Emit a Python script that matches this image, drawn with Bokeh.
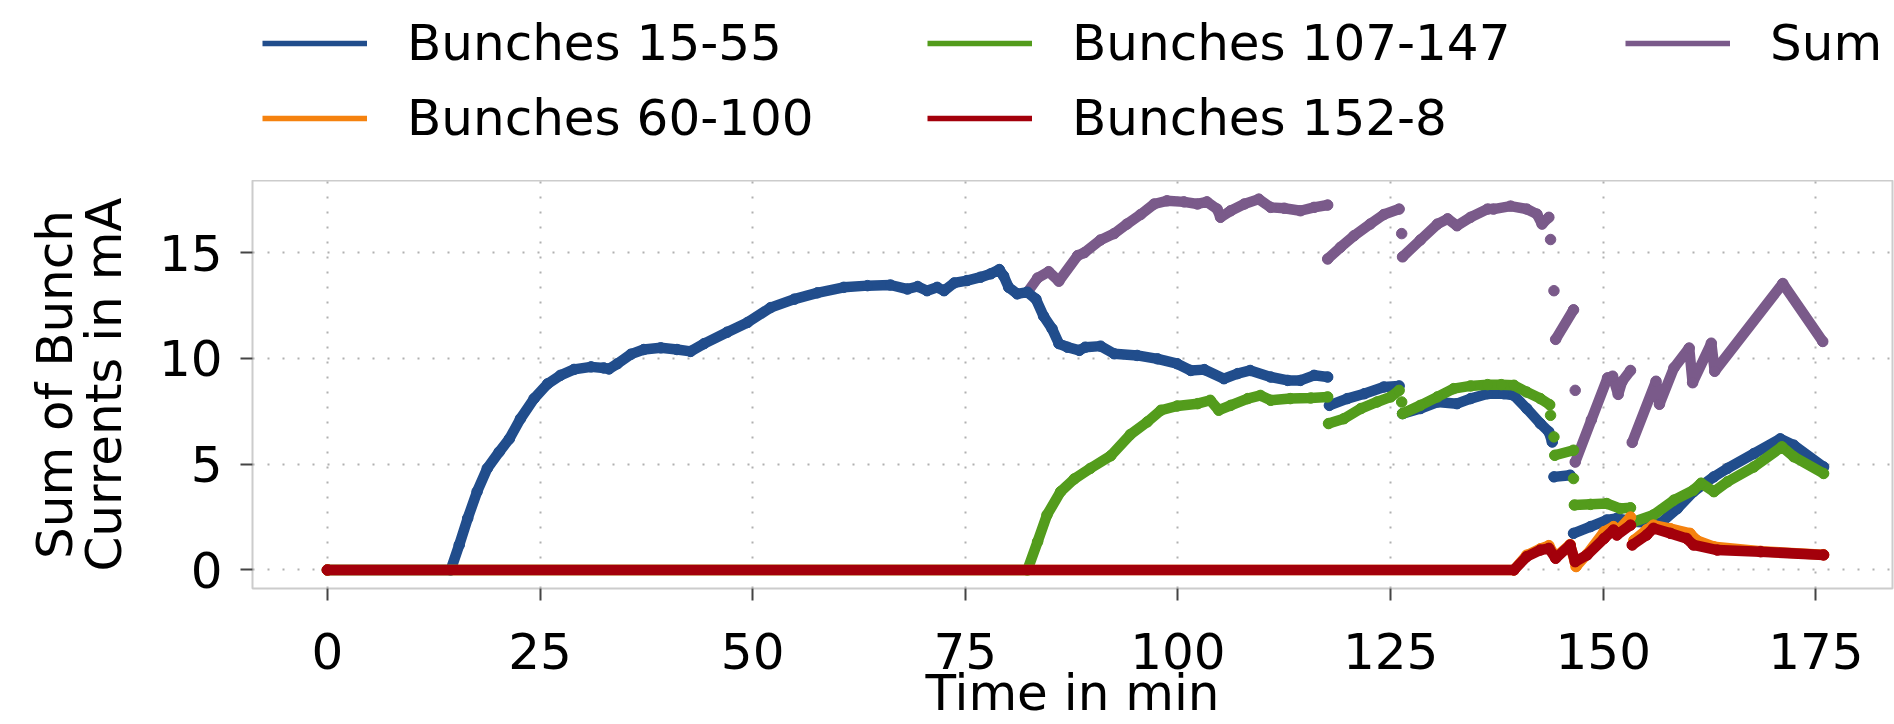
from bokeh.plotting import figure
from bokeh.layouts import column
from bokeh.models import Legend, LegendItem, FixedTicker, Range1d
from bokeh.embed import file_html
from bokeh.resources import INLINE

NaN = float("nan")

# ---------------- data (time in min, current in mA) ----------------
t_b15 = [0, 14.5, 15.5, 16.5, 17.6, 18.8, 20.2, 21.4, 22.7, 24.3,
         25.9, 27.4, 29.0, 31.0, 32.5, 33.1, 34.1, 35.7, 37.2, 39.2,
         41.1, 42.7, 44.3, 47.0, 49.4, 52.1, 54.9, 57.6, 60.7, 63.5,
         66.2, 68.2, 69.4, 70.5, 71.7, 72.5, 73.7, 75.2, 76.8, 78.0,
         79.0, 79.5, 80.1, 81.1, 82.3, 83.3, 84.2, 85.2, 86.0, 87.0,
         88.4, 89.1, 90.9, 92.5, 95.2, 97.6, 99.9, 101.5, 103.1, 105.4,
         107.0, 108.5, 110.9, 112.9, 114.4, 116.0, 117.6, NaN, 117.8, 119.9,
         121.9, 124.2, 126.0, NaN, 126.4, 128.5, 130.5, 132.8, 134.4, 136.4,
         138.3, 139.5, 141.0, 142.6, 143.6, 144.0, NaN, 144.2, 146.1, NaN,
         146.5, 148.5, 150.4, 151.6, 153.6, 156.7, 158.7, 160.6, 163.0, 164.6,
         167.7, 170.8, 172.4, 175.9]
v_b15 = [0, 0, 1.18, 2.44, 3.7, 4.8, 5.58, 6.2, 7.15, 8.1,
         8.8, 9.2, 9.48, 9.6, 9.55, 9.5, 9.75, 10.2, 10.42, 10.5,
         10.42, 10.33, 10.7, 11.24, 11.7, 12.4, 12.8, 13.1, 13.36, 13.44,
         13.47, 13.28, 13.4, 13.2, 13.36, 13.2, 13.57, 13.68, 13.84, 14.0,
         14.2, 13.9, 13.36, 13.05, 13.13, 12.8, 12.0, 11.4, 10.7, 10.53,
         10.38, 10.53, 10.58, 10.22, 10.14, 9.98, 9.75, 9.43, 9.47, 9.04,
         9.28, 9.43, 9.12, 8.96, 8.96, 9.2, 9.12, NaN, 7.78, 8.1,
         8.33, 8.65, 8.7, NaN, 7.39, 7.63, 7.94, 7.86, 8.1, 8.33,
         8.33, 8.25, 7.63, 6.92, 6.53, 6.05, NaN, 4.4, 4.48, NaN,
         1.73, 2.05, 2.36, 2.44, 2.28, 2.2, 2.9, 3.7, 4.4, 4.8,
         5.5, 6.2, 5.9, 4.87]

t_b60 = [0, 139.5, 141.0, 142.6, 143.6, 144.4, 146.1, 146.8, 148.1, 150.1,
         151.2, 151.6, 153.2, NaN, 153.6, 155.1, 155.9, 157.9, 160.2, 161.0,
         163.0, 168.5, 175.9]
v_b60 = [0, 0, 0.7, 1.0, 1.15, 0.6, 1.2, 0.16, 0.75, 1.81,
         2.05, 1.8, 2.5, NaN, 1.4, 1.9, 2.12, 1.95, 1.73, 1.4,
         1.1, 0.88, 0.72]

t_b107 = [0, 82.3, 83.5, 84.6, 86.2, 87.8, 89.7, 92.1, 94.4, 96.4,
          98.0, 99.9, 102.3, 103.8, 104.8, 106.2, 108.2, 109.7, 110.9, 113.2,
          115.6, 117.6, NaN, 117.7, 119.5, 121.5, 123.4, 125.0, 126.0, NaN,
          126.3, NaN, 126.4, 128.5, 130.5, 132.4, 134.4, 136.4, 138.0, 139.5,
          141.0, 142.6, 143.7, NaN, 143.8, NaN, 144.2, NaN, 144.3, 146.5,
          NaN, 146.5, NaN, 146.6, 148.5, 150.4, 152.0, 153.2, NaN, 153.6,
          155.9, 158.3, 160.6, 161.5, 163.0, 164.6, 167.7, 171.0, 172.4, 175.9]
v_b107 = [0, 0, 1.34, 2.6, 3.7, 4.3, 4.8, 5.4, 6.4, 7.0,
          7.55, 7.75, 7.86, 8.02, 7.55, 7.78, 8.1, 8.25, 8.02, 8.1,
          8.13, 8.18, NaN, 6.92, 7.15, 7.63, 7.94, 8.18, 8.49, NaN,
          7.94, NaN, 7.39, 7.78, 8.18, 8.57, 8.7, 8.76, 8.76, 8.73,
          8.41, 8.1, 7.81, NaN, 7.31, NaN, 6.29, NaN, 5.42, 5.66,
          NaN, 4.32, NaN, 3.07, 3.1, 3.14, 2.9, 2.94, NaN, 2.28,
          2.6, 3.3, 3.77, 4.1, 3.7, 4.17, 4.87, 5.82, 5.35, 4.56]

t_b152 = [0, 139.5, 141.0, 142.6, 143.6, 144.4, 146.1, 146.7, 148.1, 150.1,
          151.2, 151.6, 153.2, NaN, 153.4, 155.1, 155.9, 157.9, 159.8, 160.6,
          163.4, 168.5, 175.9]
v_b152 = [0, 0, 0.63, 0.94, 1.02, 0.55, 1.18, 0.39, 0.71, 1.49,
          1.89, 1.65, 2.12, NaN, 1.18, 1.65, 1.97, 1.73, 1.49, 1.18,
          0.94, 0.86, 0.71]

t_sum = [82.3, 83.5, 84.8, 86.0, 88.2, 89.0, 90.9, 92.5, 94.0, 95.6,
         97.2, 98.7, 100.7, 102.3, 103.4, 104.6, 105.0, 106.2, 107.8, 109.5,
         110.9, 112.5, 114.4, 116.0, 117.6, NaN, 117.6, 119.1, 120.7, 122.6,
         124.2, 126.0, NaN, 126.3, NaN, 126.4, 128.5, 130.5, 131.7, 132.8,
         134.4, 136.4, 137.1, 139.1, 141.0, 142.2, 142.8, 143.6, NaN, 143.8,
         NaN, 144.2, NaN, 144.4, 146.5, NaN, 146.7, NaN, 146.7, 148.6,
         150.5, 151.1, 151.75, 152.2, 153.2, NaN, 153.4, 156.2, 156.6, 158.3,
         160.1, 160.5, 162.7, 163.1, 171.1, 175.8]
v_sum = [13.13, 13.8, 14.1, 13.65, 14.86, 15.0, 15.6, 15.9, 16.35, 16.8,
         17.3, 17.45, 17.4, 17.3, 17.4, 17.06, 16.67, 16.98, 17.3, 17.53,
         17.14, 17.1, 16.98, 17.14, 17.25, NaN, 14.7, 15.25, 15.8, 16.35,
         16.8, 17.06, NaN, 15.9, NaN, 14.8, 15.6, 16.35, 16.6, 16.27,
         16.67, 17.06, 17.06, 17.2, 17.06, 16.82, 16.35, 16.67, NaN, 15.62,
         NaN, 13.2, NaN, 10.9, 12.3, NaN, 8.49, NaN, 5.1, 7.1,
         9.08, 9.16, 8.3, 8.9, 9.43, NaN, 6.03, 8.92, 7.83, 9.55,
         10.49, 8.85, 10.72, 9.39, 13.54, 10.8]

series_labels = ["Bunches 15-55", "Bunches 60-100", "Bunches 107-147", "Bunches 152-8", "Sum"]
series_colors = ["#214d8c", "#f5820f", "#539c1c", "#a3000b", "#7a5a8a"]

x_ticks = [0, 25, 50, 75, 100, 125, 150, 175]
y_ticks = [0, 5, 10, 15]

FONT = "DejaVu Sans"
FS = "50px"

LEG_H = 180
W = 1894
H = 724

# ---------------- legend strip ----------------
lf = figure(width=W, height=LEG_H, x_range=Range1d(0, 1), y_range=Range1d(0, 1),
            output_backend="svg", toolbar_location=None,
            x_axis_location=None, y_axis_location=None,
            min_border_left=0, min_border_right=0, min_border_top=0, min_border_bottom=0)
lf.grid.visible = False
lf.outline_line_color = None
lf.background_fill_color = "white"
lf.border_fill_color = "white"

# legend proxies: no visible data, only used for the legend swatches
proxies = [lf.line(x=[NaN, NaN], y=[NaN, NaN], line_color=c, line_width=5.5) for c in series_colors]


def make_legend(idx, loc):
    lg = Legend(items=[LegendItem(label=series_labels[i], renderers=[proxies[i]]) for i in idx],
                location=loc, orientation="vertical",
                label_text_font=FONT, label_text_font_size=FS, label_text_color="black",
                glyph_width=105, glyph_height=60, label_height=60,
                label_standoff=40, spacing=15, padding=0, margin=0,
                border_line_color=None, background_fill_alpha=0)
    lf.add_layout(lg, "center")


# x is measured from the plot frame's left edge (frames are aligned in the column)
make_legend([0, 1], (10, 32))
make_legend([2, 3], (675, 32))
make_legend([4], (1373, 107))

# ---------------- main plot ----------------
p = figure(width=W, height=H - LEG_H,
           x_range=Range1d(-8.8, 184.0), y_range=Range1d(-0.877, 18.41),
           output_backend="svg", toolbar_location=None,
           min_border_left=252, min_border_right=2,
           min_border_top=0, min_border_bottom=136)

p.background_fill_color = "white"
p.border_fill_color = "white"
p.outline_line_color = "#cccccc"
p.outline_line_width = 2

# draw order: Sum, 15-55, 107-147, 60-100, 152-8
order = [(t_sum, v_sum, series_colors[4]),
         (t_b15, v_b15, series_colors[0]),
         (t_b107, v_b107, series_colors[2]),
         (t_b60, v_b60, series_colors[1]),
         (t_b152, v_b152, series_colors[3])]
for ts, vs, c in order:
    p.line(ts, vs, line_color=c, line_width=10.5, line_cap="round", line_join="round")
    p.scatter(ts, vs, size=10.5, fill_color=c, line_color=c)

for g in (p.xgrid, p.ygrid):
    g.grid_line_color = "#b0b0b0"
    g.grid_line_width = 2
    g.grid_line_dash = "2 13"

p.xaxis.ticker = FixedTicker(ticks=x_ticks)
p.yaxis.ticker = FixedTicker(ticks=y_ticks)
p.xgrid.ticker = FixedTicker(ticks=x_ticks)
p.ygrid.ticker = FixedTicker(ticks=y_ticks)

for ax in (p.xaxis, p.yaxis):
    ax.axis_line_color = None
    ax.major_tick_line_color = "#444444"
    ax.major_tick_line_width = 2
    ax.major_tick_out = 12
    ax.major_tick_in = 0
    ax.minor_tick_out = 0
    ax.minor_tick_in = 0
    ax.major_label_text_font = FONT
    ax.major_label_text_font_size = FS
    ax.major_label_text_color = "black"
    ax.axis_label_text_font = FONT
    ax.axis_label_text_font_size = FS
    ax.axis_label_text_font_style = "normal"
    ax.axis_label_text_color = "black"

p.xaxis.axis_label = "Time in min"
p.xaxis.major_label_standoff = 32
p.xaxis.axis_label_standoff = -8
p.yaxis.axis_label = "Sum of Bunch\nCurrents in mA"
p.yaxis.axis_label_text_line_height = 0.85
p.yaxis.major_label_standoff = 18
p.yaxis.axis_label_standoff = 23

layout = column(lf, p, spacing=0)
open("out.html", "w").write(file_html(layout, INLINE))
